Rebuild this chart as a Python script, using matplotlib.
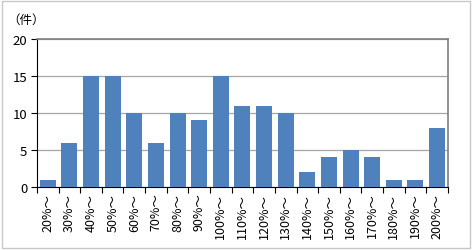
import matplotlib.pyplot as plt
from matplotlib.patches import Rectangle

plt.rcParams['font.family'] = ['Noto Sans CJK JP', 'DejaVu Sans']

categories = ['20%～', '30%～', '40%～', '50%～', '60%～', '70%～', '80%～', '90%～',
              '100%～', '110%～', '120%～', '130%～', '140%～', '150%～', '160%～',
              '170%～', '180%～', '190%～', '200%～']
counts = [1, 6, 15, 15, 10, 6, 10, 9, 15, 11, 11, 10, 2, 4, 5, 4, 1, 1, 8]
y_ticks = [0, 5, 10, 15, 20]

fig = plt.figure(figsize=(4.74, 2.51), dpi=100)
ax = fig.add_axes([0.078, 0.251, 0.867, 0.590])

x = list(range(len(categories)))
ax.bar(x, counts, width=0.74, color='#4F81BD', zorder=3)

ax.set_xlim(-0.5, len(categories) - 0.5)
ax.set_ylim(0, 20)
ax.set_yticks(y_ticks)
ax.yaxis.grid(True, color='#A6A6A6', linewidth=0.9, zorder=0)

# ticks between categories on the x axis
ax.set_xticks([i - 0.5 for i in range(len(categories) + 1)])
ax.set_xticklabels([])
ax.set_xticks(x, minor=True)
ax.set_xticklabels(categories, minor=True, rotation=90, fontsize=9)
ax.tick_params(axis='x', which='minor', length=0, pad=4)
ax.tick_params(axis='x', which='major', length=4, width=0.8, direction='out')
ax.tick_params(axis='y', length=4, width=0.8, labelsize=9.5, pad=3)

for side in ['top', 'right']:
    ax.spines[side].set_color('#808080')
    ax.spines[side].set_linewidth(1.2)
ax.spines['left'].set_color('black')
ax.spines['bottom'].set_color('black')

fig.text(7 / 474, 0.918, '（件）', fontsize=9, ha='left', va='center')

# outer frame
fig.patches.append(Rectangle((0.004, 0.008), 0.988, 0.984, transform=fig.transFigure,
                             fill=False, edgecolor='#C8C8C8', linewidth=1.0))

fig.savefig('out.png', dpi=100)
